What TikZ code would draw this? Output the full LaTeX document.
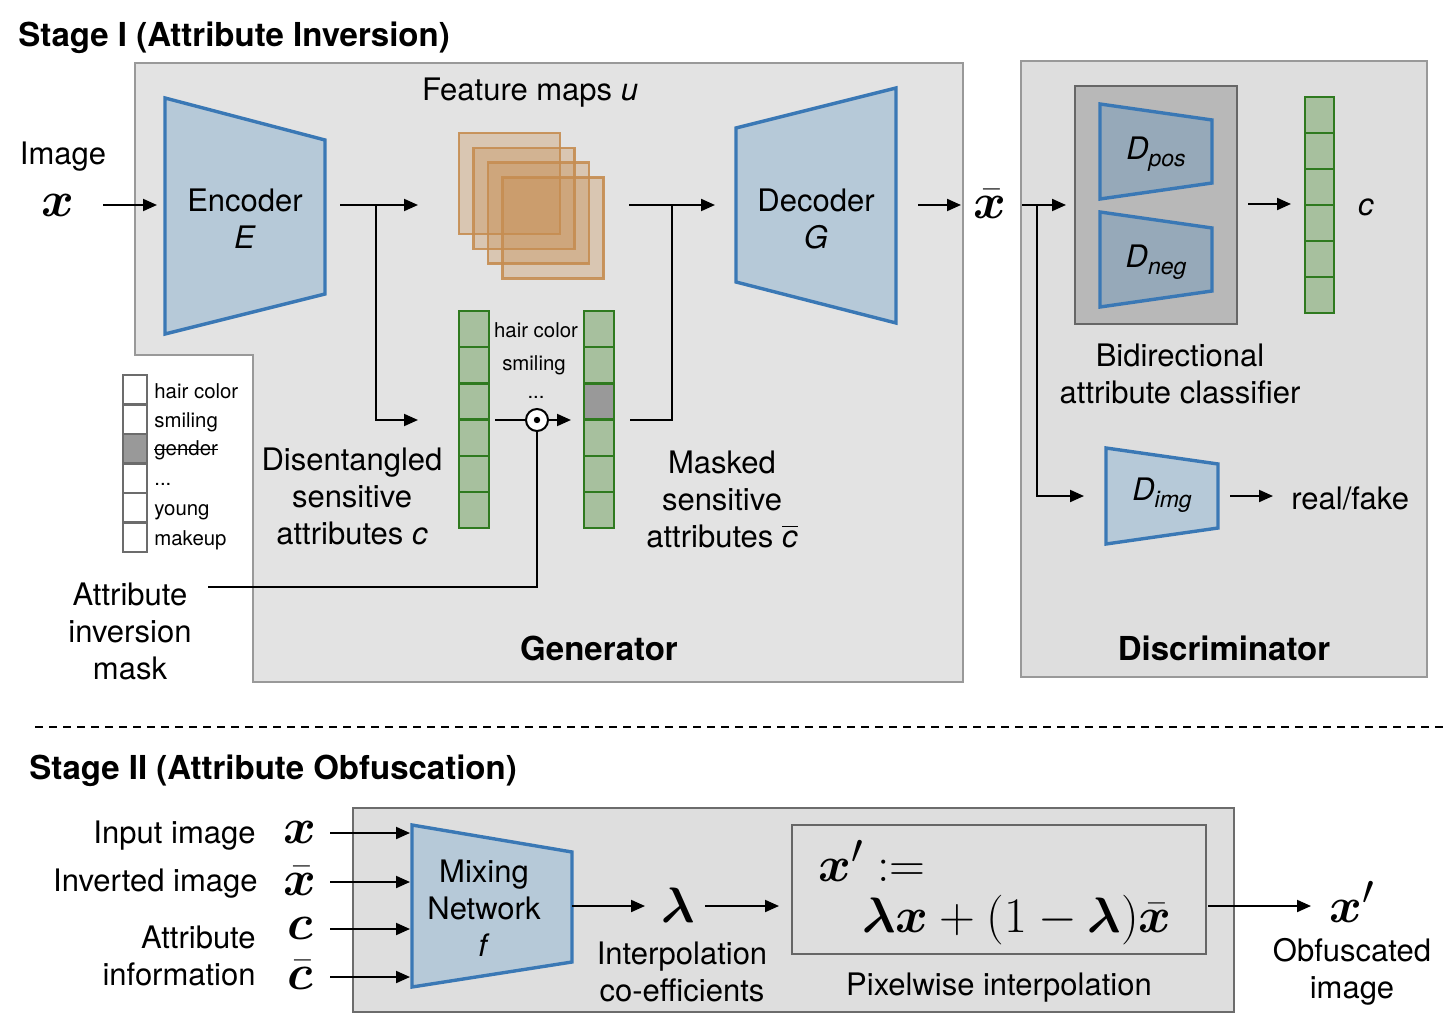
\documentclass[tikz,border=0pt]{standalone}
\usepackage[no-math]{fontspec}
\setmainfont{TeX Gyre Heros}
\usepackage{amsmath,bm}
\usepackage{xcolor}
\usetikzlibrary{arrows.meta,positioning}

\definecolor{genfill}{HTML}{E3E3E3}
\definecolor{discfill}{HTML}{DEDEDE}
\definecolor{boxline}{HTML}{999999}
\definecolor{encfill}{HTML}{B6C9D8}
\definecolor{encdraw}{HTML}{3A78B5}
\definecolor{dfill}{HTML}{96A9B9}
\definecolor{clsfill}{HTML}{B8B8B8}
\definecolor{clsdraw}{HTML}{666666}
\definecolor{cellfill}{HTML}{A7C09E}
\definecolor{celldraw}{HTML}{2F7A1F}
\definecolor{fmapc}{RGB}{198,141,81}
\definecolor{maskgray}{HTML}{999999}

\newcommand{\dsub}[1]{\textit{D}\raisebox{-0.45ex}{\fontsize{11.5}{12}\selectfont\textit{#1}}}

\tikzset{
  txt/.style={font=\fontsize{15.5}{18.5}\selectfont, align=center, inner sep=0pt},
  small/.style={font=\fontsize{10.2}{12}\selectfont, inner sep=0pt},
  head/.style={font=\fontsize{16.5}{19}\selectfont\bfseries, inner sep=0pt},
  mth/.style={font=\fontsize{24}{26}\selectfont, inner sep=0pt},
  bigmth/.style={font=\fontsize{28}{30}\selectfont, inner sep=0pt},
  conn/.style={line width=1pt},
  arr/.style={line width=1pt, -{Triangle[length=7pt,width=6pt]}},
  net/.style={fill=encfill, draw=encdraw, line width=1.7pt},
  cell/.style={fill=cellfill, draw=celldraw, line width=1.2pt},
  fmap/.style={fill=fmapc, fill opacity=0.33, draw=fmapc, draw opacity=0.9, line width=1.2pt},
  mulnode/.style={circle, draw, fill=white, line width=1pt, minimum size=11pt, inner sep=0pt}
}

\begin{document}
\begin{tikzpicture}[x=0.5pt, y=-0.5pt]
  \useasboundingbox (0,0) rectangle (1454,1026);

  % ---------------- Stage I ----------------
  \node[head, anchor=west] (stage1) at (18,38) {Stage I (Attribute Inversion)};

  % generator frame (notched for the mask legend)
  \draw[fill=genfill, draw=boxline, line width=1.2pt]
    (135,63) -- (963,63) -- (963,682) -- (253,682) -- (253,355) -- (135,355) -- cycle;
  \node[head] (genlab) at (599,648) {Generator};

  % input image
  \node[txt] (imglab) at (63,157) {Image};
  \node[mth] (xin) at (58,205) {$\bm{x}$};
  \coordinate (xinR) at (103,205);
  \coordinate (encL) at (157,205);
  \draw[arr] (xinR) -- (encL);

  % encoder
  \draw[net] (165,98) -- (325,140) -- (325,294) -- (165,334) -- cycle;
  \node[txt] (enc) at (245,219) {Encoder\\\textit{E}};
  \coordinate (encR) at (340,205);

  % feature maps
  \foreach \k in {0,...,3}
    \draw[fmap] (459+14.5*\k,133+14.8*\k) rectangle ++(101,101);
  \node[txt] (fmlab) at (530,93) {Feature maps \textit{u}};
  \coordinate (fmL) at (418,205);
  \coordinate (fmR) at (629,205);
  \coordinate (split1) at (376,205);
  \draw[arr] (encR) -- (fmL);

  % disentangled attributes c
  \foreach \i in {0,...,5}
    \draw[cell] (459,311+36.2*\i) rectangle ++(30,36.2);
  \coordinate (cvecL) at (418,420);
  \coordinate (cvecR) at (495,420);
  \draw[arr] (split1) |- (cvecL);
  \node[txt] (clab) at (352,496) {Disentangled\\sensitive\\attributes \textit{c}};

  % names between the vectors
  \node[small] (hc) at (536,330) {hair color};
  \node[small] (sm) at (534,365) {smiling};
  \node[small] (dd) at (536,397) {...};

  % element-wise product
  \node[mulnode] (mul) at (537,420) {};
  \fill (mul.center) circle (1.6pt);
  \coordinate (cbarL) at (571,420);
  \draw[conn] (cvecR) -- (mul);
  \draw[arr] (mul) -- (cbarL);

  % masked attributes c bar
  \foreach \i in {0,...,5}
    \draw[cell] (584,311+36.2*\i) rectangle ++(30,36.2);
  \draw[cell, fill=maskgray] (584,311+36.2*2) rectangle ++(30,36.2);
  \node[txt] (cbarlab) at (722,499) {Masked\\sensitive\\attributes $\overline{\mbox{\textit{c}}}$};
  \coordinate (cbarR) at (630,420);
  \coordinate (split2) at (672,205);
  \draw[conn] (cbarR) -| (split2);

  % decoder
  \coordinate (decL) at (715,205);
  \draw[arr] (fmR) -- (decL);
  \draw[net] (736,128) -- (896,88) -- (896,323) -- (736,282) -- cycle;
  \node[txt] (dec) at (816,219) {Decoder\\\textit{G}};
  \coordinate (decR) at (918,205);
  \node[mth] (xbar) at (990,204) {$\bar{\bm{x}}$};
  \coordinate (xbarL) at (961,205);
  \draw[arr] (decR) -- (xbarL);

  % attribute inversion mask legend
  \foreach \i in {0,...,5}
    \draw[draw=gray!85!black, fill=white, line width=1.2pt] (123,375+29.5*\i) rectangle ++(24,29.5);
  \draw[draw=gray!85!black, fill=maskgray, line width=1.2pt] (123,375+29.5*2) rectangle ++(24,29.5);
  \node[small, anchor=base west] (m1) at (154,398) {hair color};
  \node[small, anchor=base west] (m2) at (154,427) {smiling};
  \node[small, anchor=base west] (m3) at (154,455) {gender};
  \draw[line width=0.6pt] ([yshift=2.7pt]m3.base west) -- ([yshift=2.7pt]m3.base east);
  \node[small, anchor=base west] (m4) at (154,485) {...};
  \node[small, anchor=base west] (m5) at (154,515) {young};
  \node[small, anchor=base west] (m6) at (154,545) {makeup};
  \node[txt] (masklab) at (130,631) {Attribute\\inversion\\mask};
  \coordinate (maskR) at (208,587);
  \draw[conn] (maskR) -| (mul.south);

  % discriminator
  \draw[fill=discfill, draw=boxline, line width=1.2pt] (1021,61) rectangle (1427,677);
  \node[head] (disclab) at (1224,648) {Discriminator};
  \draw[fill=clsfill, draw=clsdraw, line width=1.3pt] (1075,86) rectangle (1237,324);
  \draw[net, fill=dfill] (1100,104) -- (1212,120) -- (1212,183) -- (1100,199) -- cycle;
  \node[txt] (dpos) at (1156,154) {\dsub{pos}};
  \draw[net, fill=dfill] (1100,212) -- (1212,228) -- (1212,291) -- (1100,307) -- cycle;
  \node[txt] (dneg) at (1156,262) {\dsub{neg}};
  \node[txt] (bidir) at (1180,374) {Bidirectional\\attribute classifier};

  \coordinate (xbarR) at (1022,205);
  \coordinate (split3) at (1037,205);
  \coordinate (clsL) at (1066,205);
  \draw[arr] (xbarR) -- (clsL);
  \coordinate (clsR) at (1248,204);
  \coordinate (coutL) at (1291,204);
  \draw[arr] (clsR) -- (coutL);
  \foreach \i in {0,...,5}
    \draw[cell] (1305,97+36*\i) rectangle ++(29,36);
  \node[txt] (cout) at (1366,207) {\textit{c}};

  \draw[net] (1106,448) -- (1218,464) -- (1218,528) -- (1106,544) -- cycle;
  \node[txt] (dimg) at (1162,495) {\dsub{img}};
  \coordinate (imgL) at (1084,496);
  \draw[arr] (split3) |- (imgL);
  \coordinate (imgR) at (1230,496);
  \coordinate (rfL) at (1273,496);
  \node[txt, anchor=west] (rf) at (1291,498) {real/fake};
  \draw[arr] (imgR) -- (rfL);

  % divider
  \draw[line width=0.9pt, dash pattern=on 4pt off 3pt] (35,727) -- (1445,727);

  % ---------------- Stage II ----------------
  \node[head, anchor=west] (stage2) at (29,771) {Stage II (Attribute Obfuscation)};
  \draw[fill=discfill, draw=gray!85!black, line width=1.2pt] (353,808) rectangle (1234,1012);

  \node[txt, anchor=east] (l1) at (256,836) {Input image};
  \node[txt, anchor=east] (l2) at (258,884) {Inverted image};
  \node[txt, anchor=east, align=right] (l3) at (256,956) {Attribute\\information};
  \node[mth] (in1) at (300,832) {$\bm{x}$};
  \node[mth] (in2) at (300,881) {$\bar{\bm{x}}$};
  \node[mth] (in3) at (300,928) {$\bm{c}$};
  \node[mth] (in4) at (300,975) {$\bar{\bm{c}}$};
  \foreach \n/\y in {in1/833,in2/882,in3/929,in4/977} {
    \coordinate (\n R) at (330,\y);
    \coordinate (\n M) at (410,\y);
    \draw[arr] (\n R) -- (\n M);
  }

  % mixing network
  \draw[net] (412,825) -- (572,852) -- (572,962) -- (412,987) -- cycle;
  \node[txt] (mix) at (484,908) {Mixing\\Network\\\textit{f}};
  \coordinate (mixR) at (572,906);
  \coordinate (lamL) at (645,906);
  \node[bigmth] (lam) at (678,905) {$\bm{\lambda}$};
  \draw[arr] (mixR) -- (lamL);
  \node[txt] (lamlab) at (682,972) {Interpolation\\co-efficients};
  \coordinate (lamR) at (705,906);
  \coordinate (formL) at (779,906);
  \draw[arr] (lamR) -- (formL);

  % pixelwise interpolation
  \draw[fill=discfill, draw=clsdraw, line width=1.3pt] (792,825) rectangle (1206,954);
  \node[bigmth, anchor=west] (f1) at (818,861) {$\bm{x}' :=$};
  \node[bigmth] (f2) at (1017,920) {$\bm{\lambda}\bm{x}+(1-\bm{\lambda})\bar{\bm{x}}$};
  \node[txt] (pixlab) at (999,988) {Pixelwise interpolation};
  \coordinate (formR) at (1208,906);
  \coordinate (xoutL) at (1311,906);
  \node[bigmth] (xout) at (1352,902) {$\bm{x}'$};
  \draw[arr] (formR) -- (xoutL);
  \node[txt] (outlab) at (1352,972) {Obfuscated\\image};
\end{tikzpicture}
\end{document}
